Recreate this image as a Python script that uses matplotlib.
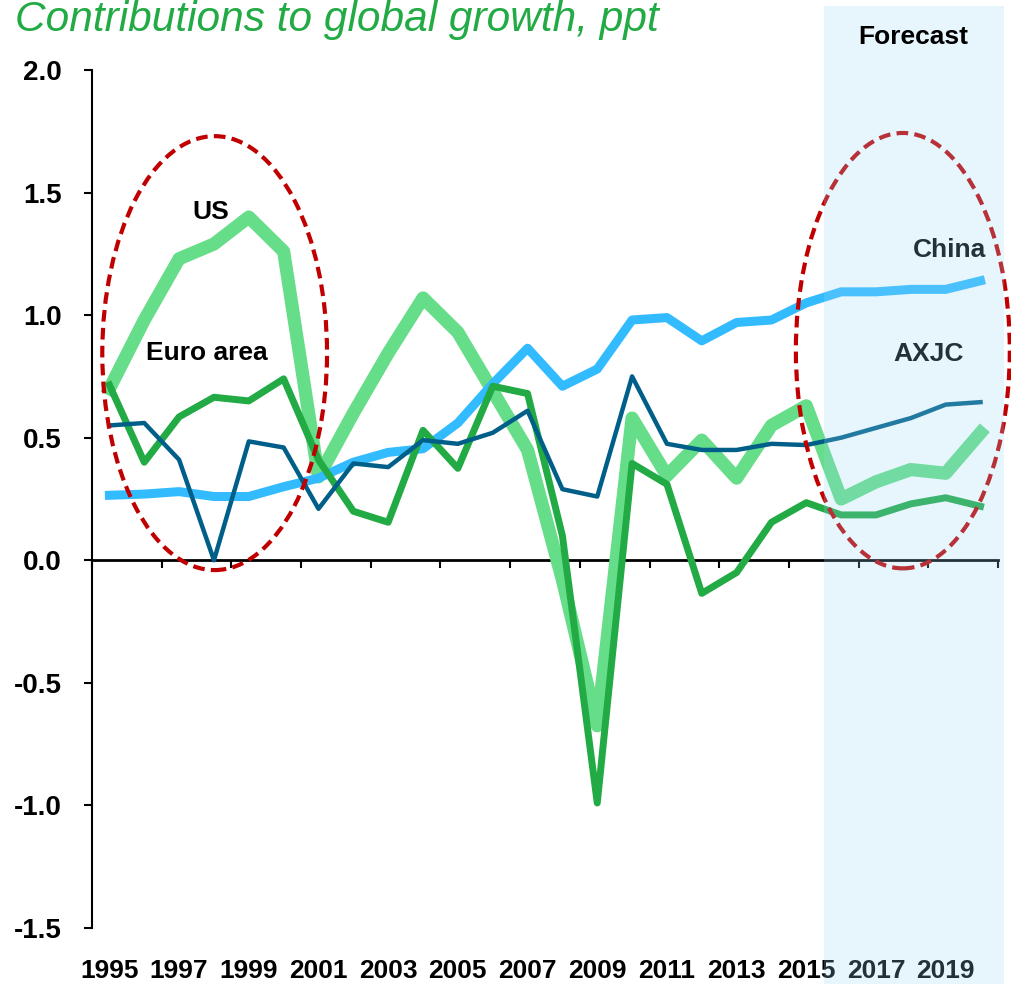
import numpy as np
import matplotlib
matplotlib.use("Agg")
import matplotlib.pyplot as plt
from matplotlib.patches import Ellipse, Rectangle
from matplotlib import transforms

# Contributions to global growth, percentage points
years = list(range(1995, 2021))
us = [0.70, 0.98, 1.23, 1.29, 1.40, 1.26, 0.34, 0.60, 0.845, 1.07, 0.93, 0.69, 0.45, -0.08,
      -0.675, 0.58, 0.345, 0.49, 0.335, 0.55, 0.63, 0.25, 0.32, 0.37, 0.355, 0.52]
euro_area = [0.715, 0.40, 0.585, 0.665, 0.65, 0.74, 0.41, 0.20, 0.155, 0.53, 0.375, 0.71, 0.68, 0.10,
             -0.99, 0.395, 0.31, -0.135, -0.05, 0.155, 0.235, 0.185, 0.185, 0.23, 0.255, 0.22]
china = [0.265, 0.27, 0.28, 0.26, 0.26, 0.30, 0.335, 0.40, 0.44, 0.455, 0.56, 0.72, 0.865, 0.71,
         0.78, 0.98, 0.99, 0.895, 0.97, 0.98, 1.05, 1.095, 1.095, 1.105, 1.105, 1.14]
axjc = [0.55, 0.56, 0.41, 0.0, 0.485, 0.46, 0.21, 0.395, 0.38, 0.49, 0.475, 0.52, 0.61, 0.29,
        0.26, 0.75, 0.475, 0.45, 0.45, 0.475, 0.47, 0.50, 0.54, 0.58, 0.635, 0.645]
label_years = list(range(1995, 2021, 2))
year_labels = [str(y) for y in label_years]
forecast_start = 2015.5

plt.rcParams["font.family"] = ["Liberation Sans", "DejaVu Sans"]

fig = plt.figure(figsize=(10.11, 9.84), dpi=100)
rect = [0.091, 0.0569, 0.8961, 0.872]
xlim = (1994.5, 2020.5)
ylim = (-1.5, 2.0)

# zero line with its tick marks, drawn underneath the series
axz = fig.add_axes(rect, zorder=0)
axz.set_xlim(*xlim)
axz.set_ylim(*ylim)
for side in ["left", "right", "top"]:
    axz.spines[side].set_visible(False)
axz.spines["bottom"].set_position(("data", 0))
axz.spines["bottom"].set_linewidth(2)
axz.set_xticks(np.arange(1994.5, 2021, 2))
axz.tick_params(axis="x", direction="out", length=6, width=1.5, labelbottom=False)
axz.set_yticks([])

ax = fig.add_axes(rect, zorder=1)
ax.patch.set_visible(False)
ax.set_xlim(*xlim)
ax.set_ylim(*ylim)

ax.plot(years, us, color="#66DD88", lw=9.5, zorder=2)
ax.plot(years, china, color="#33BBFF", lw=6.5, zorder=3)
ax.plot(years, euro_area, color="#22AA44", lw=5, zorder=4)
ax.plot(years, axjc, color="#005F88", lw=3.2, zorder=5)

# dashed rings around the highlighted periods
for cx, cy, w, h in [(1998.02, 0.845, 6.45, 1.77), (2017.77, 0.855, 6.14, 1.776)]:
    ax.add_patch(Ellipse((cx, cy), w, h, fill=False, edgecolor="#C00000", lw=3.0,
                         linestyle=(0, (2.8, 1.5)), zorder=6, clip_on=False))

# y axis
yt = np.arange(-1.5, 2.01, 0.5)
ax.set_yticks(yt)
ax.set_yticklabels([f"{v:.1f}" for v in yt], fontsize=20, fontweight="bold")
ax.tick_params(axis="y", direction="out", length=6, width=1.5, pad=16)
ax.spines["left"].set_linewidth(1.5)
ax.spines["top"].set_visible(False)
ax.spines["right"].set_visible(False)
ax.spines["bottom"].set_visible(False)

# year labels along the bottom
ax.set_xticks(label_years)
ax.set_xticklabels(year_labels, fontsize=19, fontweight="bold")
ax.tick_params(axis="x", length=0, pad=22)

# series labels
lab_kw = dict(fontsize=19, fontweight="bold", ha="center", va="center", zorder=7)
ax.text(1997.9, 1.42, "US", **lab_kw)
ax.text(1997.8, 0.845, "Euro area", **lab_kw)
ax.text(2019.1, 1.265, "China", **lab_kw)
ax.text(2018.5, 0.84, "AXJC", **lab_kw)

# forecast shading laid over the whole column
trans = transforms.blended_transform_factory(ax.transData, fig.transFigure)
fig.patches.append(Rectangle((forecast_start, 0), 2020.67 - forecast_start, 1 - 6 / 984,
                             transform=trans, facecolor="#9AD8F8", alpha=0.23,
                             edgecolor="none", zorder=5))
fig.text(913 / 1011, 1 - 37 / 984, "Forecast", fontsize=19, fontweight="bold",
         ha="center", va="center", zorder=6)

fig.text(15 / 1011, 1 - 31 / 984, "Contributions to global growth, ppt", fontsize=30.5,
         style="italic", color="#22AA44", ha="left", va="baseline")

fig.savefig("out.png", dpi=100)
